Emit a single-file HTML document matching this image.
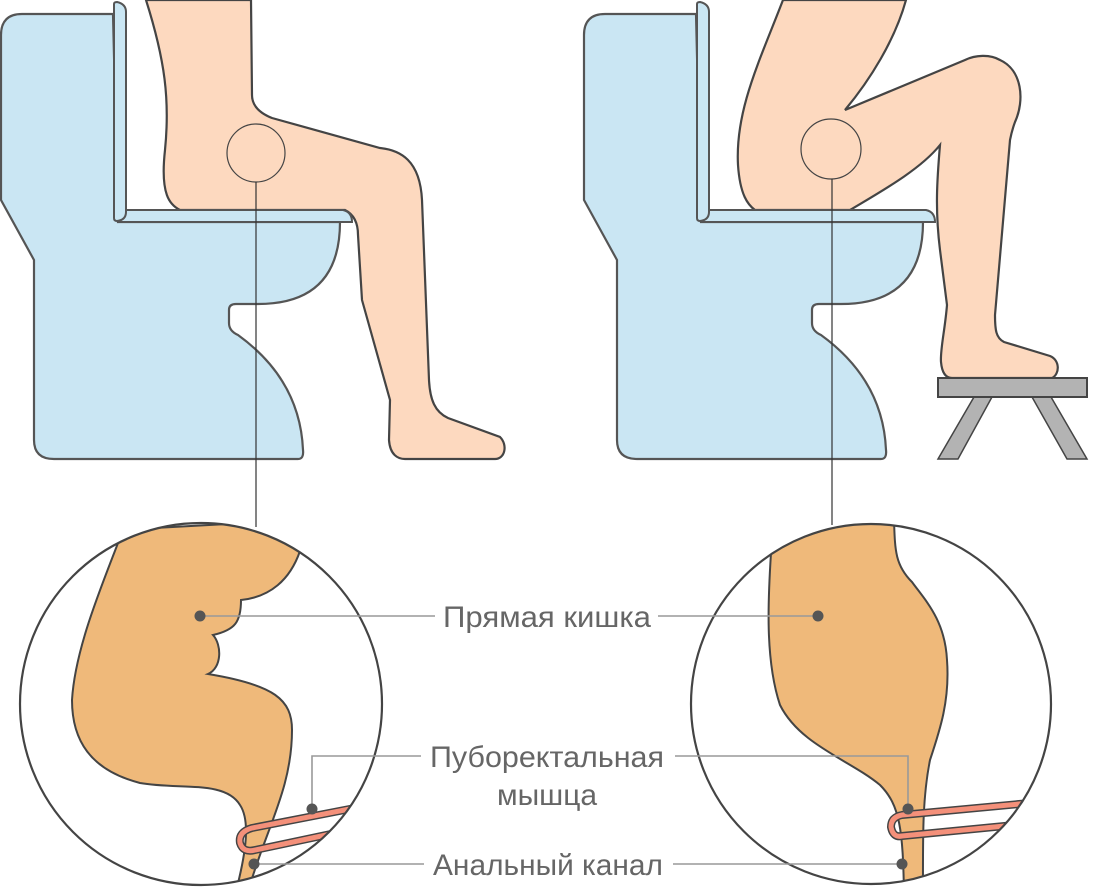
<!DOCTYPE html>
<html><head><meta charset="utf-8"><style>
html,body{margin:0;padding:0;background:#fff;}
svg{display:block}
text{font-family:"Liberation Sans",sans-serif;font-size:30px;fill:#666;}
</style></head><body>
<svg width="1094" height="896" viewBox="0 0 1094 896" xmlns="http://www.w3.org/2000/svg">
<defs>
<clipPath id="cl"><circle cx="201" cy="704" r="181"/></clipPath>
<clipPath id="cr"><circle cx="871" cy="704" r="180"/></clipPath>
<g id="toilet">
<path d="M113,14 L22,14 Q1,14 1,35 L1,200 L34,260 L34,440 Q34,459 54,459 L298,459 Q304,459 303,450 Q300,380 238,335 Q229,331 229,323 L229,310 Q229,304 236,304 L258,304 Q340,304 340,222 L118,222 Z" fill="#cae6f3" stroke="#555" stroke-width="2.2"/>
</g>
</defs>
<use href="#toilet"/>
<path d="M146,0 C165,60 170,100 165,150 C160,195 170,205 180,210 L345,210 C355,215 358,225 358,235 L362,300 L390,400 L389,440 C390,455 398,459 405,459 L495,459 C505,459 508,445 500,437 L448,418 C435,412 430,400 429,380 L422,200 C420,160 400,150 380,148 L272,118 C257,112 252,104 252,95 L251,0 Z" fill="#fdd9bf" stroke="#444" stroke-width="2.2"/>
<path d="M118,210 L343,210 Q352,212 352,222 L122,222 Q118,222 118,218 Z" fill="#cae6f3" stroke="#555" stroke-width="2"/>
<path d="M114,4 Q114,2 117,2 Q126,4 126,12 L126,212 Q126,220 117,221 Q114,221 114,218 Z" fill="#cae6f3" stroke="#555" stroke-width="2"/>
<circle cx="256" cy="153" r="29" fill="none" stroke="#444" stroke-width="1.2"/>
<line x1="256" y1="182" x2="256" y2="527" stroke="#333" stroke-width="1.2"/>

<g transform="translate(583,0)"><use href="#toilet"/></g>
<path d="M783,0 C760,60 735,110 738,165 C740,195 748,205 755,210 L850,210 C880,192 920,170 940,145 C937,180 935,210 940,250 L947,305 C945,330 940,350 941,362 C942,373 946,378 952,378 L1052,378 C1060,374 1060,360 1050,356 L1004,342 C996,338 995,330 995,315 L1010,140 Q1012,130 1015,122 C1025,100 1022,70 1000,60 C990,54 975,55 965,60 L845,110 C870,80 895,40 906,0 Z" fill="#fdd9bf" stroke="#444" stroke-width="2.2"/>
<path d="M701,210 L926,210 Q935,212 935,222 L705,222 Q701,222 701,218 Z" fill="#cae6f3" stroke="#555" stroke-width="2"/>
<path d="M697,4 Q697,2 700,2 Q709,4 709,12 L709,212 Q709,220 700,221 Q697,221 697,218 Z" fill="#cae6f3" stroke="#555" stroke-width="2"/>
<circle cx="831" cy="149" r="30" fill="none" stroke="#444" stroke-width="1.2"/>
<line x1="832" y1="179" x2="832" y2="525" stroke="#333" stroke-width="1.2"/>
<path d="M974,397 L992,397 L958,459 L938,459 Z M1032,397 L1051,397 L1087,459 L1067,459 Z" fill="#b3b3b3" stroke="#444" stroke-width="1.5"/>
<rect x="938" y="378" width="149" height="19" fill="#b3b3b3" stroke="#444" stroke-width="2"/>

<g clip-path="url(#cl)">
<path d="M118,530 L118,543 C100,590 75,650 72,700 C72,740 90,770 140,783 C180,790 225,780 240,805 C250,820 247,850 235,895 L247,895 C265,830 292,790 292,730 C292,700 275,685 208,674 C222,668 222,645 213,635 C235,630 241,622 241,600 C270,597 290,580 300,551 L300,520 Z" fill="#efb97a" stroke="#444" stroke-width="2"/>
<path d="M360,807 L252,828 Q238,832 240,843 Q243,853 255,850 L345,831" fill="none" stroke="#444" stroke-width="8" stroke-linecap="round"/>
<path d="M360,807 L252,828 Q238,832 240,843 Q243,853 255,850 L345,831" fill="none" stroke="#f4907a" stroke-width="5"/>
</g>
<circle cx="201" cy="704" r="181" fill="none" stroke="#444" stroke-width="2.2"/>

<g clip-path="url(#cr)">
<path d="M771,520 L771,553 C768,600 765,660 780,705 C800,745 850,760 880,785 C900,805 903,830 904,895 L923,895 C923,840 922,800 930,760 C940,730 950,700 947,660 C945,620 925,600 912,582 C895,565 895,550 894,520 Z" fill="#efb97a" stroke="#444" stroke-width="2"/>
<path d="M1030,803 L902,815 Q891,817 891,827 Q893,838 902,836 L1015,825" fill="none" stroke="#444" stroke-width="8" stroke-linecap="round"/>
<path d="M1030,803 L902,815 Q891,817 891,827 Q893,838 902,836 L1015,825" fill="none" stroke="#f4907a" stroke-width="5"/>
</g>
<circle cx="871" cy="704" r="180" fill="none" stroke="#444" stroke-width="2.2"/>

<g stroke="#999" stroke-width="1.6" fill="none">
<line x1="200" y1="616" x2="435" y2="616"/>
<line x1="658" y1="616" x2="818" y2="616"/>
<polyline points="312,808 312,756 421,756"/>
<polyline points="675,756 908,756 908,809"/>
<line x1="254" y1="864" x2="424" y2="864"/>
<line x1="673" y1="864" x2="902" y2="864"/>
</g>
<g fill="#555">
<circle cx="200" cy="616" r="5.5"/><circle cx="818" cy="616" r="5.5"/>
<circle cx="312" cy="809" r="5.5"/><circle cx="908" cy="809" r="5.5"/>
<circle cx="254" cy="864" r="5.5"/><circle cx="902" cy="864" r="5.5"/>
</g>
<text x="547" y="627" text-anchor="middle" textLength="208" lengthAdjust="spacingAndGlyphs">Прямая кишка</text>
<text x="547" y="767" text-anchor="middle" textLength="234" lengthAdjust="spacingAndGlyphs">Пуборектальная</text>
<text x="547" y="805" text-anchor="middle">мышца</text>
<text x="548" y="875" text-anchor="middle" textLength="230" lengthAdjust="spacingAndGlyphs">Анальный канал</text>
</svg>
</body></html>
